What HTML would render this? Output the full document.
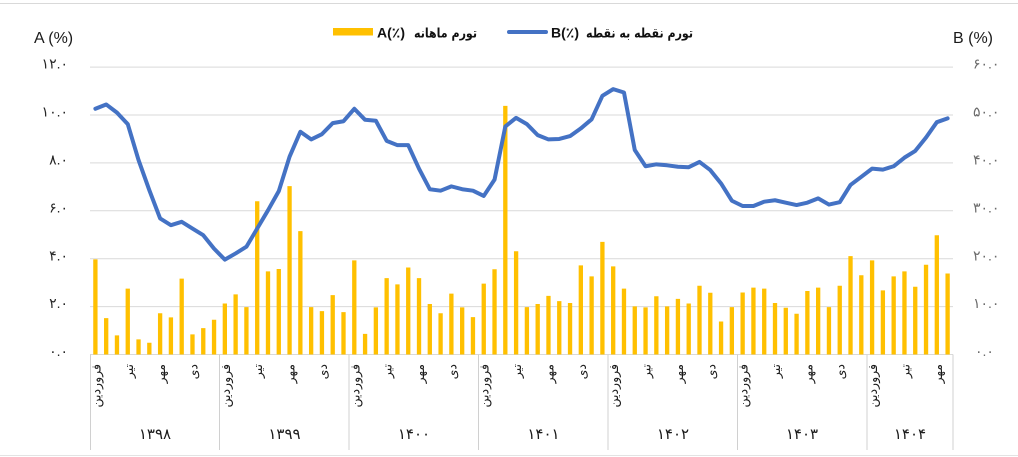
<!DOCTYPE html>
<html><head><meta charset="utf-8">
<style>
html,body{margin:0;padding:0;background:#fff;}
#c{position:relative;width:1018px;height:457px;overflow:hidden;background:#fff;}
svg{position:absolute;left:0;top:0;}
</style></head>
<body><div id="c">
<svg width="1018" height="457" viewBox="0 0 1018 457" xmlns="http://www.w3.org/2000/svg">
<line x1="0" y1="3.5" x2="1018" y2="3.5" stroke="#d9d9d9" stroke-width="1"/>
<line x1="0" y1="455.5" x2="1018" y2="455.5" stroke="#e3e3e3" stroke-width="1"/>
<path stroke="#d9d9d9" stroke-width="1" fill="none" d="M90 67.1H953M90 115H953M90 162.9H953M90 210.8H953M90 258.7H953M90 306.6H953M90 354.5H953"/>
<path stroke="#d0d0d0" stroke-width="1" fill="none" d="M90.5 354.5V450M219.5 354.5V450M349 354.5V450M478.5 354.5V450M608 354.5V450M737.5 354.5V450M867 354.5V450M953 354.5V450"/>
<g transform="translate(90,354.5) scale(10.7875,-23.95)">
<path fill="#FFC000" d="M0.3 0h.4v3.97h-.4zM1.3 0h.4v1.52h-.4zM2.3 0h.4v0.80h-.4zM3.3 0h.4v2.75h-.4zM4.3 0h.4v0.63h-.4zM5.3 0h.4v0.49h-.4zM6.3 0h.4v1.72h-.4zM7.3 0h.4v1.55h-.4zM8.3 0h.4v3.17h-.4zM9.3 0h.4v0.84h-.4zM10.3 0h.4v1.10h-.4zM11.3 0h.4v1.45h-.4zM12.3 0h.4v2.13h-.4zM13.3 0h.4v2.51h-.4zM14.3 0h.4v1.98h-.4zM15.3 0h.4v6.40h-.4zM16.3 0h.4v3.47h-.4zM17.3 0h.4v3.57h-.4zM18.3 0h.4v7.03h-.4zM19.3 0h.4v5.15h-.4zM20.3 0h.4v1.98h-.4zM21.3 0h.4v1.81h-.4zM22.3 0h.4v2.48h-.4zM23.3 0h.4v1.77h-.4zM24.3 0h.4v3.93h-.4zM25.3 0h.4v0.86h-.4zM26.3 0h.4v1.97h-.4zM27.3 0h.4v3.19h-.4zM28.3 0h.4v2.93h-.4zM29.3 0h.4v3.63h-.4zM30.3 0h.4v3.19h-.4zM31.3 0h.4v2.11h-.4zM32.3 0h.4v1.72h-.4zM33.3 0h.4v2.54h-.4zM34.3 0h.4v1.97h-.4zM35.3 0h.4v1.56h-.4zM36.3 0h.4v2.96h-.4zM37.3 0h.4v3.56h-.4zM38.3 0h.4v10.38h-.4zM39.3 0h.4v4.31h-.4zM40.3 0h.4v1.98h-.4zM41.3 0h.4v2.11h-.4zM42.3 0h.4v2.45h-.4zM43.3 0h.4v2.23h-.4zM44.3 0h.4v2.15h-.4zM45.3 0h.4v3.72h-.4zM46.3 0h.4v3.26h-.4zM47.3 0h.4v4.70h-.4zM48.3 0h.4v3.68h-.4zM49.3 0h.4v2.75h-.4zM50.3 0h.4v2.01h-.4zM51.3 0h.4v1.97h-.4zM52.3 0h.4v2.43h-.4zM53.3 0h.4v2.01h-.4zM54.3 0h.4v2.32h-.4zM55.3 0h.4v2.13h-.4zM56.3 0h.4v2.87h-.4zM57.3 0h.4v2.58h-.4zM58.3 0h.4v1.38h-.4zM59.3 0h.4v1.98h-.4zM60.3 0h.4v2.59h-.4zM61.3 0h.4v2.79h-.4zM62.3 0h.4v2.75h-.4zM63.3 0h.4v2.15h-.4zM64.3 0h.4v1.95h-.4zM65.3 0h.4v1.70h-.4zM66.3 0h.4v2.65h-.4zM67.3 0h.4v2.79h-.4zM68.3 0h.4v1.98h-.4zM69.3 0h.4v2.87h-.4zM70.3 0h.4v4.11h-.4zM71.3 0h.4v3.31h-.4zM72.3 0h.4v3.93h-.4zM73.3 0h.4v2.68h-.4zM74.3 0h.4v3.26h-.4zM75.3 0h.4v3.47h-.4zM76.3 0h.4v2.83h-.4zM77.3 0h.4v3.75h-.4zM78.3 0h.4v4.98h-.4zM79.3 0h.4v3.38h-.4z"/>
</g>
<g transform="translate(90,354.5) scale(10.7875,-4.79)">
<polyline fill="none" stroke="#4472C4" stroke-width="4" stroke-linejoin="round" stroke-linecap="round" vector-effect="non-scaling-stroke" points="0.5,51.3 1.5,52.2 2.5,50.5 3.5,48.1 4.5,40.6 5.5,34.3 6.5,28.4 7.5,27.0 8.5,27.7 9.5,26.3 10.5,24.9 11.5,22.1 12.5,19.8 13.5,21.1 14.5,22.5 15.5,26.3 16.5,30.1 17.5,34.1 18.5,41.3 19.5,46.5 20.5,44.9 21.5,46.0 22.5,48.3 23.5,48.7 24.5,51.3 25.5,49.0 26.5,48.8 27.5,44.6 28.5,43.7 29.5,43.7 30.5,38.8 31.5,34.5 32.5,34.2 33.5,35.1 34.5,34.5 35.5,34.2 36.5,33.1 37.5,36.5 38.5,47.6 39.5,49.4 40.5,48.1 41.5,45.8 42.5,44.9 43.5,45.0 44.5,45.6 45.5,47.2 46.5,49.1 47.5,54.0 48.5,55.4 49.5,54.7 50.5,42.7 51.5,39.3 52.5,39.7 53.5,39.5 54.5,39.2 55.5,39.1 56.5,40.2 57.5,38.5 58.5,35.7 59.5,32.1 60.5,31.0 61.5,31.0 62.5,31.9 63.5,32.2 64.5,31.7 65.5,31.2 66.5,31.7 67.5,32.6 68.5,31.3 69.5,31.8 70.5,35.4 71.5,37.1 72.5,38.8 73.5,38.6 74.5,39.3 75.5,41.1 76.5,42.5 77.5,45.3 78.5,48.5 79.5,49.3"/>
</g>
<g font-family="'Liberation Sans','DejaVu Sans',sans-serif" font-size="14" fill="#262626" text-anchor="end">
<text x="68" y="68.5">۱۲.۰</text>
<text x="68" y="116.5">۱۰.۰</text>
<text x="68" y="164.5">۸.۰</text>
<text x="68" y="212.5">۶.۰</text>
<text x="68" y="260.5">۴.۰</text>
<text x="68" y="308">۲.۰</text>
<text x="68" y="356">۰.۰</text>
</g>
<g font-family="'Liberation Sans','DejaVu Sans',sans-serif" font-size="14" fill="#6b6b6b">
<text x="973" y="68.5">۶۰.۰</text>
<text x="973" y="116.5">۵۰.۰</text>
<text x="973" y="164.5">۴۰.۰</text>
<text x="973" y="212.5">۳۰.۰</text>
<text x="973" y="260.5">۲۰.۰</text>
<text x="973" y="308">۱۰.۰</text>
<text x="975" y="356">۰.۰</text>
</g>
<g font-family="'Liberation Sans',sans-serif" font-size="16" fill="#1a1a1a">
<text x="34" y="43">A (%)</text>
<text x="953" y="43">B (%)</text>
</g>
<rect x="333" y="28" width="40" height="7.5" fill="#FFC000"/>
<line x1="509" y1="32" x2="546" y2="32" stroke="#4472C4" stroke-width="4" stroke-linecap="round"/>
<g font-family="'Liberation Sans','DejaVu Sans',sans-serif" font-size="14" font-weight="bold" fill="#111">
<text x="377" y="37.5">A(٪)</text>
<text x="551" y="37.5">B(٪)</text>
</g>
<g font-family="'DejaVu Sans',sans-serif" font-size="13" font-weight="bold" fill="#111">
<text x="414" y="37.5" textLength="63" lengthAdjust="spacingAndGlyphs">تورم ماهانه</text>
<text x="586" y="37.5" textLength="107" lengthAdjust="spacingAndGlyphs">تورم نقطه به نقطه</text>
</g>
<g font-family="'DejaVu Sans',sans-serif" font-size="12.5" fill="#1a1a1a" text-anchor="end">
<text transform="translate(100.4,364) rotate(-90)">فروردین</text>
<text transform="translate(132.8,364) rotate(-90)">تیر</text>
<text transform="translate(165.1,364) rotate(-90)">مهر</text>
<text transform="translate(197.5,364) rotate(-90)">دی</text>
<text transform="translate(229.8,364) rotate(-90)">فروردین</text>
<text transform="translate(262.2,364) rotate(-90)">تیر</text>
<text transform="translate(294.6,364) rotate(-90)">مهر</text>
<text transform="translate(326.9,364) rotate(-90)">دی</text>
<text transform="translate(359.3,364) rotate(-90)">فروردین</text>
<text transform="translate(391.7,364) rotate(-90)">تیر</text>
<text transform="translate(424.0,364) rotate(-90)">مهر</text>
<text transform="translate(456.4,364) rotate(-90)">دی</text>
<text transform="translate(488.7,364) rotate(-90)">فروردین</text>
<text transform="translate(521.1,364) rotate(-90)">تیر</text>
<text transform="translate(553.5,364) rotate(-90)">مهر</text>
<text transform="translate(585.8,364) rotate(-90)">دی</text>
<text transform="translate(618.2,364) rotate(-90)">فروردین</text>
<text transform="translate(650.6,364) rotate(-90)">تیر</text>
<text transform="translate(682.9,364) rotate(-90)">مهر</text>
<text transform="translate(715.3,364) rotate(-90)">دی</text>
<text transform="translate(747.6,364) rotate(-90)">فروردین</text>
<text transform="translate(780.0,364) rotate(-90)">تیر</text>
<text transform="translate(812.4,364) rotate(-90)">مهر</text>
<text transform="translate(844.7,364) rotate(-90)">دی</text>
<text transform="translate(877.1,364) rotate(-90)">فروردین</text>
<text transform="translate(909.5,364) rotate(-90)">تیر</text>
<text transform="translate(941.8,364) rotate(-90)">مهر</text>
</g>
<g font-family="'Liberation Sans','DejaVu Sans',sans-serif" font-size="15" fill="#1a1a1a" text-anchor="middle">
<text x="155" y="439">۱۳۹۸</text>
<text x="284.5" y="439">۱۳۹۹</text>
<text x="414" y="439">۱۴۰۰</text>
<text x="543.5" y="439">۱۴۰۱</text>
<text x="673" y="439">۱۴۰۲</text>
<text x="802" y="439">۱۴۰۳</text>
<text x="910" y="439">۱۴۰۴</text>
</g>
</svg>
</div>
</body></html>
